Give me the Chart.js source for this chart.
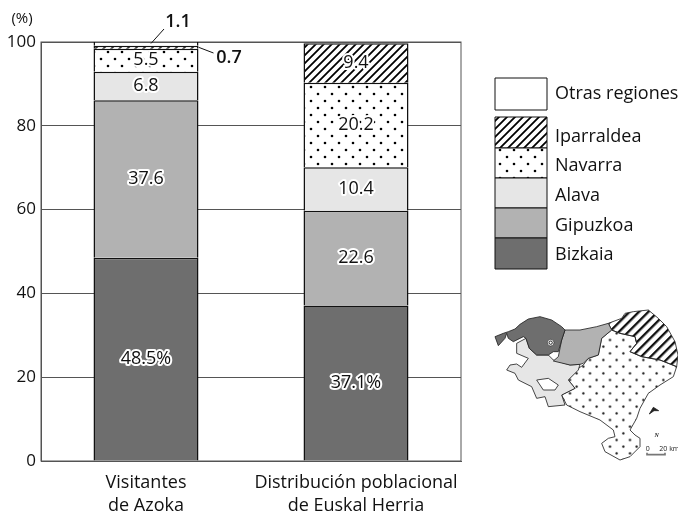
<!DOCTYPE html>
<html lang="es">
<head>
<meta charset="UTF-8">
<title>Visitantes de Azoka</title>
<script src="https://cdn.jsdelivr.net/npm/chart.js"></script>
<style>
    html, body { margin: 0; padding: 0; background: #fff; overflow: hidden; }
    #wrap { position: relative; width: 678px; height: 511px; }
    #grafico { position: absolute; left: 0; top: 0; }
    #mapa { position: absolute; left: 480px; top: 290px; }
</style>
</head>
<body>
<div id="wrap">
    <canvas id="grafico" width="678" height="511"></canvas>
    <!-- mapa de referencia, solo decorativo -->
    <svg id="mapa" width="198" height="180" viewBox="0 0 594 540">
        <defs>
            <pattern id="puntos" width="40" height="40" patternUnits="userSpaceOnUse">
                <circle cx="10" cy="10" r="3.4" fill="#111"/>
                <circle cx="30" cy="30" r="3.4" fill="#111"/>
            </pattern>
            <pattern id="rayas" width="20" height="20" patternUnits="userSpaceOnUse" patternTransform="rotate(-45)">
                <rect width="20" height="20" fill="#fff"/>
                <rect width="20" height="7" fill="#111"/>
            </pattern>
        </defs>
        <g stroke="#222" stroke-width="2.5" stroke-linejoin="round">
            <polygon fill="url(#rayas)" points="385,100 425,85 435,70 460,65 505,60 535,85 560,110 585,155 594,195 590,230 540,210 485,200 450,185 470,160 465,140 420,130 395,120"/>
            <polygon fill="url(#puntos)" points="395,120 420,130 465,140 470,160 450,185 485,200 540,210 590,230 580,260 540,285 505,310 480,355 470,385 450,420 465,435 480,445 480,470 450,500 420,510 375,485 365,460 385,445 405,440 400,420 360,390 300,365 260,345 245,315 285,295 265,270 295,235 310,225 325,205 355,195 365,145"/>
            <path fill="#e6e6e6" fill-rule="evenodd" d="M110,160 L138,145 L148,175 L170,195 L205,195 L220,210 L270,225 L300,223 L295,240 L265,270 L285,295 L245,315 L255,345 L205,350 L195,320 L170,325 L155,290 L115,270 L105,250 L80,240 L90,225 L110,222 L125,232 L145,205 L110,190 Z M170,270 L205,265 L235,285 L225,300 L190,300 Z"/>
            <polygon fill="#b2b2b2" points="255,120 300,120 350,110 385,100 395,120 365,145 355,195 325,205 310,220 300,223 270,225 220,213 235,200 245,150"/>
            <polygon fill="#6e6e6e" points="45,140 70,130 85,125 105,117 120,103 145,87 180,80 215,90 245,110 255,120 245,150 235,185 220,185 205,195 170,195 148,175 138,145 130,140 100,155 85,145 80,130 75,145 55,167"/>
            <polygon fill="#222" points="508,372 520,352 536,362 522,362"/>
        </g>
        <circle cx="212" cy="158" r="10" fill="#fff" stroke="#222" stroke-width="2"/>
        <circle cx="212" cy="158" r="5" fill="#fff" stroke="#222" stroke-width="3"/>
        <text x="530" y="441" font-family="Liberation Serif" font-style="italic" font-weight="bold" font-size="18" text-anchor="middle" fill="#222">N</text>
        <text x="503" y="482" font-family="Open Sans" font-size="21" text-anchor="middle" fill="#222">0</text>
        <text x="568" y="482" font-family="Open Sans" font-size="21" text-anchor="middle" fill="#222">20 km</text>
        <polyline points="501,488 501,494 555,494 555,488" fill="none" stroke="#777" stroke-width="5"/>
    </svg>
</div>

<script>
    // datos
    const categorias = [['Visitantes', 'de Azoka'], ['Distribución poblacional', 'de Euskal Herria']];
    const bizkaia = [48.5, 37.1];
    const gipuzkoa = [37.6, 22.6];
    const alava = [6.8, 10.4];
    const navarra = [5.5, 20.2];
    const iparraldea = [0.7, 9.4];
    const otras = [1.1, null];
    const marcasY = [0, 20, 40, 60, 80, 100];

    const fuente = 'Open Sans';
    const negro = '#111111';

    function patronPuntos() {
        const c = document.createElement('canvas');
        c.width = 14; c.height = 14;
        const g = c.getContext('2d');
        g.fillStyle = '#fff'; g.fillRect(0, 0, 14, 14);
        g.fillStyle = '#000';
        g.beginPath(); g.arc(3, 3, 1.3, 0, Math.PI * 2); g.fill();
        g.beginPath(); g.arc(10, 10, 1.3, 0, Math.PI * 2); g.fill();
        return g.createPattern(c, 'repeat');
    }

    function patronRayas() {
        const c = document.createElement('canvas');
        c.width = 8; c.height = 8;
        const g = c.getContext('2d');
        g.fillStyle = '#fff'; g.fillRect(0, 0, 8, 8);
        g.strokeStyle = '#000'; g.lineWidth = 1.8;
        g.beginPath();
        g.moveTo(-2, 2); g.lineTo(2, -2);
        g.moveTo(-2, 10); g.lineTo(10, -2);
        g.moveTo(6, 10); g.lineTo(10, 6);
        g.stroke();
        return g.createPattern(c, 'repeat');
    }

    const ctx = document.getElementById('grafico').getContext('2d');

    function serie(label, data, color) {
        return { label: label, data: data, backgroundColor: color, borderColor: negro, borderWidth: 1.5, stack: 'a' };
    }

    // recuadro del area, etiquetas, lineas guia y leyenda
    const extras = {
        id: 'extras',
        beforeDatasetsDraw(chart) {
            const a = chart.chartArea;
            const g = chart.ctx;
            g.save();
            g.strokeStyle = '#555';
            g.lineWidth = 1;
            g.strokeRect(a.left, a.top, a.right - a.left, a.bottom - a.top);
            g.restore();
        },
        afterDatasetsDraw(chart) {
            const g = chart.ctx;
            g.save();
            g.font = '18px "' + fuente + '"';
            g.textAlign = 'center';
            g.textBaseline = 'middle';
            g.lineJoin = 'round';
            chart.data.datasets.forEach(function (ds, i) {
                const meta = chart.getDatasetMeta(i);
                meta.data.forEach(function (barra, j) {
                    const v = ds.data[j];
                    if (v === null || v < 2) return;
                    const texto = i === 0 ? v + '%' : String(v);
                    const y = (barra.y + barra.base) / 2;
                    g.strokeStyle = '#fff';
                    g.lineWidth = 4;
                    g.strokeText(texto, barra.x, y);
                    g.fillStyle = negro;
                    g.fillText(texto, barra.x, y);
                });
            });

            // valores pequenos de la primera barra, fuera con linea guia
            const sup = chart.getDatasetMeta(5).data[0];
            const ipa = chart.getDatasetMeta(4).data[0];
            g.strokeStyle = negro;
            g.lineWidth = 1;
            g.beginPath();
            g.moveTo(sup.x + 5, (sup.y + sup.base) / 2);
            g.lineTo(sup.x + 18, 29);
            g.moveTo(sup.x + sup.width / 2, (ipa.y + ipa.base) / 2);
            g.lineTo(sup.x + sup.width / 2 + 15, 53);
            g.stroke();
            g.fillStyle = negro;
            g.font = '600 18px "' + fuente + '"';
            g.fillText(String(otras[0]), sup.x + 32, 22);
            g.fillText(String(iparraldea[0]), sup.x + 83, 58);
            g.font = '18px "' + fuente + '"';

            // leyenda
            const orden = [5, 4, 3, 2, 1, 0];
            const cajas = [[78, 32], [117, 31], [148, 30], [178, 30], [208, 30], [238, 31]];
            const textosY = [94, 137, 166, 196, 226, 255];
            g.textAlign = 'left';
            orden.forEach(function (idx, k) {
                const ds = chart.data.datasets[idx];
                g.fillStyle = ds.backgroundColor;
                g.fillRect(495, cajas[k][0], 52, cajas[k][1]);
                g.strokeStyle = negro;
                g.lineWidth = 1;
                g.strokeRect(495, cajas[k][0], 52, cajas[k][1]);
                g.fillStyle = negro;
                g.fillText(ds.label, 555, textosY[k]);
            });

            // unidad del eje
            g.font = '15px "' + fuente + '"';
            g.textAlign = 'center';
            g.fillText('(%)', 22, 19);
            g.restore();
        }
    };

    new Chart(ctx, {
        type: 'bar',
        data: {
            labels: categorias,
            datasets: [
                serie('Bizkaia', bizkaia, '#6e6e6e'),
                serie('Gipuzkoa', gipuzkoa, '#b2b2b2'),
                serie('Alava', alava, '#e6e6e6'),
                serie('Navarra', navarra, patronPuntos()),
                serie('Iparraldea', iparraldea, patronRayas()),
                serie('Otras regiones', otras, '#ffffff')
            ]
        },
        options: {
            responsive: false,
            animation: false,
            barPercentage: 0.5,
            categoryPercentage: 1,
            layout: { padding: { top: 42, right: 217, left: 0, bottom: 0 } },
            plugins: { legend: { display: false }, tooltip: { enabled: false } },
            scales: {
                x: {
                    stacked: true,
                    grid: { display: false },
                    border: { color: '#555' },
                    ticks: { color: negro, font: { family: fuente, size: 18, lineHeight: 1.3 }, padding: 2, maxRotation: 0, autoSkip: false },
                    afterFit(s) { s.height = 50; }
                },
                y: {
                    stacked: true,
                    min: 0,
                    max: 100,
                    afterBuildTicks(s) { s.ticks = marcasY.map(function (v) { return { value: v }; }); },
                    grid: { color: '#555', drawTicks: false },
                    border: { color: '#555' },
                    ticks: { color: negro, font: { family: fuente, size: 17 }, padding: 5 },
                    afterFit(s) { s.width = 41; }
                }
            }
        },
        plugins: [extras]
    });
</script>
</body>
</html>
